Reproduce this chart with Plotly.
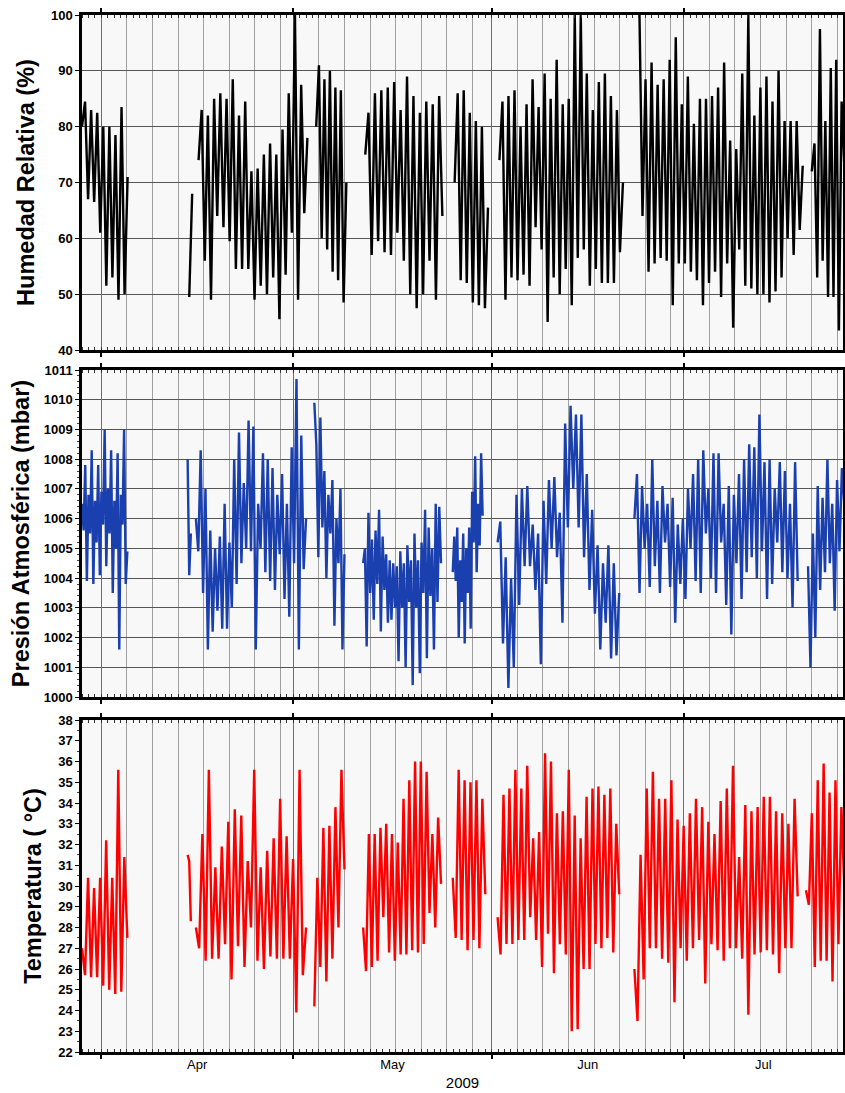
import pandas as pd
import plotly.graph_objects as go

# ---------------- axis window ----------------
x_start = "2009-03-29 00:00"
x_end = "2009-07-25 21:00"
month_starts = ["2009-04-01", "2009-05-01", "2009-06-01", "2009-07-01"]
month_names = ["Apr", "May", "Jun", "Jul"]

# ---------------- Humedad relativa (%) ----------------
rh_seg_start = ["2009-03-29 00:00", "2009-04-14 18:00", "2009-04-16 05:00", "2009-05-04 14:00",
                "2009-05-12 06:00", "2009-05-26 05:00", "2009-06-02 05:00", "2009-06-24 02:00",
                "2009-07-21 00:00"]
rh_seg_end = ["2009-04-05 03:00", "2009-04-15 05:00", "2009-05-03 05:00", "2009-05-09 07:00",
              "2009-05-24 07:00", "2009-05-31 10:00", "2009-06-21 12:00", "2009-07-19 14:00",
              "2009-07-26 02:00"]
rh_s1 = [80, 84.5, 67, 83, 66.5, 82.5, 61, 80, 51.5, 80, 53, 78.5, 49, 83.5, 50, 71]
rh_s2 = [49.5, 68]
rh_s3 = [74, 83, 56, 82, 49, 85, 64, 86, 62, 85, 59.5, 88.5, 54.5, 82, 54.5, 84.5, 54.5, 72, 49,
         72.5, 51.5, 75, 50, 77, 53, 75, 45.5, 79.5, 53.5, 86, 61, 100, 49, 87.5, 64.5, 78]
rh_s4 = [80, 91, 60, 88.5, 58, 90, 54, 87, 52.5, 86.5, 48.5, 70]
rh_s5 = [75, 82.5, 57, 86, 59.5, 86.5, 57.5, 87, 57, 88, 61, 83, 56, 89, 50, 85.5, 47.5, 82.5, 50,
         84.5, 56, 84, 49, 85.5, 64]
rh_s6 = [70, 86, 52.5, 86.5, 52, 82.5, 48.5, 81, 48, 80, 47.5, 65.5]
rh_s7 = [74, 84.5, 49, 85.5, 53, 86.5, 52.5, 80, 53.5, 84, 51.5, 88.5, 62, 83.5, 58, 89.5, 45, 85,
         53, 92, 50, 84, 54.5, 85, 48, 100, 56.5, 100, 58, 89.5, 51.5, 83, 54.5, 88, 52, 89.5, 52,
         85.5, 52, 83, 57.5, 70]
rh_s8 = [100, 64, 88.5, 54, 91.5, 55.5, 87.5, 56.5, 88.5, 56, 92, 48, 96, 55.5, 84, 55.5, 89, 54,
         80.5, 52.5, 85, 48, 85, 52, 85.5, 54, 87, 49.5, 91.5, 55.5, 77.5, 44, 76, 58, 89.5, 51.5,
         100, 51, 82, 50, 87, 50, 89, 48.5, 84.5, 50.5, 90, 53, 81, 60, 81, 57, 81, 61.5, 73]
rh_s9 = [72, 77, 53, 97.5, 56, 81, 49.5, 90.5, 49.5, 92, 43.5, 84.5, 73]
rh_blocks = [rh_s1, rh_s2, rh_s3, rh_s4, rh_s5, rh_s6, rh_s7, rh_s8, rh_s9]

# ---------------- Presion atmosferica (mbar) ----------------
p_seg_start = ["2009-03-29 00:00", "2009-04-14 12:00", "2009-04-15 19:00", "2009-05-04 07:00",
               "2009-05-11 22:00", "2009-05-25 22:00", "2009-06-01 22:00", "2009-06-23 07:00",
               "2009-07-20 10:00"]
p_seg_end = ["2009-04-05 02:00", "2009-04-15 00:00", "2009-05-03 00:00", "2009-05-09 00:00",
             "2009-05-24 02:00", "2009-05-30 14:00", "2009-06-20 22:00", "2009-07-18 19:00",
             "2009-07-26 02:00"]
p_s1 = [1006.5, 1005.6, 1007.8, 1003.9, 1006.8, 1005.5, 1008.3, 1003.8, 1006.6, 1005.2, 1007.8,
        1004.1, 1006.9, 1005.8, 1009.0, 1004.4, 1007.0, 1005.5, 1008.3, 1003.5, 1006.6, 1005.0,
        1008.2, 1001.6, 1006.8, 1005.8, 1009.0, 1003.8, 1004.9]
p_s2 = [1008.0, 1004.1, 1005.5]
p_s3 = [1006.0, 1004.9, 1008.3, 1003.5, 1007.0, 1001.6, 1005.6, 1002.2, 1005.0, 1002.9, 1005.4,
        1002.3, 1006.5, 1002.3, 1005.2, 1003.0, 1008.0, 1003.8, 1008.9, 1004.5, 1007.2, 1005.0,
        1009.3, 1004.9, 1009.1, 1001.6, 1006.5, 1005.0, 1008.2, 1004.2, 1008.0, 1003.9, 1007.7,
        1003.6, 1006.8, 1004.8, 1007.5, 1003.3, 1006.5, 1002.7, 1008.4, 1004.5, 1010.7, 1001.6,
        1008.8, 1004.3, 1006.0]
p_s4 = [1009.9, 1008.5, 1004.7, 1009.4, 1005.7, 1007.6, 1004.0, 1006.8, 1005.5, 1007.3, 1002.4,
        1006.0, 1004.5, 1007.0, 1001.6, 1004.8]
p_s5 = [1004.5, 1005.0, 1001.7, 1006.2, 1003.5, 1005.3, 1002.6, 1005.6, 1003.8, 1006.3, 1002.2,
        1005.4, 1003.6, 1004.8, 1002.5, 1004.6, 1002.6, 1004.5, 1003.0, 1004.4, 1001.2, 1004.9,
        1003.0, 1004.5, 1001.0, 1005.1, 1003.2, 1004.6, 1000.4, 1005.5, 1003.0, 1004.6, 1000.8,
        1005.2, 1003.5, 1006.3, 1001.3, 1005.7, 1003.4, 1005.0, 1001.6, 1006.5, 1003.2, 1006.4,
        1004.5]
p_s6 = [1004.2, 1005.4, 1003.9, 1005.7, 1002.0, 1004.6, 1003.2, 1005.5, 1001.8, 1005.0, 1003.5,
        1005.7, 1002.3, 1006.9, 1005.2, 1008.1, 1004.2, 1006.5, 1005.1, 1008.2, 1006.1]
p_s7 = [1005.2, 1005.9, 1001.8, 1004.7, 1000.3, 1004.0, 1001.0, 1006.8, 1003.1, 1007.0, 1004.4,
        1007.1, 1004.4, 1005.8, 1003.6, 1005.5, 1001.1, 1006.6, 1003.8, 1007.3, 1005.0, 1007.4,
        1004.7, 1006.2, 1002.5, 1009.2, 1005.7, 1009.8, 1007.0, 1009.5, 1005.7, 1009.5, 1004.7,
        1007.5, 1003.6, 1006.3, 1002.8, 1005.1, 1001.6, 1004.5, 1002.5, 1005.1, 1001.3, 1004.5,
        1001.4, 1003.5]
p_s8 = [1006.0, 1007.5, 1003.5, 1007.1, 1005.0, 1006.5, 1003.7, 1008.0, 1004.4, 1006.6, 1003.5,
        1007.1, 1005.2, 1006.5, 1003.7, 1006.7, 1002.5, 1005.8, 1003.8, 1006.0, 1003.3, 1007.0,
        1005.0, 1007.5, 1003.9, 1008.0, 1003.5, 1008.3, 1005.5, 1007.0, 1004.0, 1008.2, 1003.5,
        1008.2, 1005.2, 1006.5, 1003.1, 1007.1, 1002.1, 1006.8, 1004.5, 1007.5, 1003.3, 1008.0,
        1004.2, 1008.5, 1004.7, 1008.4, 1004.0, 1009.5, 1004.9, 1007.9, 1003.3, 1008.0, 1003.8,
        1007.0, 1005.2, 1007.9, 1004.2, 1007.6, 1004.0, 1006.5, 1003.0, 1007.9, 1003.9]
p_s9 = [1004.4, 1001.0, 1005.5, 1002.0, 1007.1, 1003.6, 1006.7, 1004.2, 1008.0, 1004.5, 1006.5,
        1002.9, 1007.3, 1004.9, 1007.7, 1006.5]
p_blocks = [p_s1, p_s2, p_s3, p_s4, p_s5, p_s6, p_s7, p_s8, p_s9]

# ---------------- Temperatura (C) ----------------
t_seg_start = ["2009-03-29 00:00", "2009-04-14 12:00", "2009-04-15 19:00", "2009-05-04 07:00",
               "2009-05-11 22:00", "2009-05-25 22:00", "2009-06-01 22:00", "2009-06-23 07:00",
               "2009-07-20 02:00"]
t_seg_end = ["2009-04-05 02:00", "2009-04-15 00:00", "2009-05-03 00:00", "2009-05-09 00:00",
             "2009-05-24 02:00", "2009-05-31 00:00", "2009-06-20 22:00", "2009-07-18 19:00",
             "2009-07-26 02:00"]
t_s1 = [27.0, 25.7, 30.4, 25.6, 29.9, 25.6, 30.4, 25.2, 32.2, 25.0, 30.4, 24.8, 35.6, 24.9, 31.4, 27.5]
t_s2 = [31.5, 31.2, 28.3]
t_s3 = [28.0, 27.0, 32.5, 26.4, 35.6, 26.5, 30.9, 26.5, 31.9, 27.2, 33.1, 25.5, 33.7, 27.1, 33.4,
        26.1, 31.2, 28.0, 35.6, 26.4, 30.9, 26.0, 31.7, 26.6, 32.3, 26.5, 34.2, 26.5, 32.4, 26.5,
        31.3, 23.9, 35.6, 25.7, 28.0]
t_s4 = [24.2, 30.4, 26.1, 32.8, 25.4, 32.9, 26.5, 33.8, 28.0, 35.6, 30.8]
t_s5 = [28.0, 25.9, 32.5, 26.1, 32.5, 26.4, 32.8, 28.5, 33.0, 26.8, 32.5, 26.4, 32.1, 26.7, 34.2,
        26.7, 35.1, 26.9, 36.0, 26.8, 36.0, 27.2, 35.5, 28.7, 32.5, 28.0, 33.3, 30.1]
t_s6 = [30.4, 27.5, 35.6, 27.4, 35.1, 26.9, 35.0, 27.4, 35.1, 27.0, 34.2, 29.6]
t_s7 = [28.5, 26.7, 34.4, 27.2, 34.7, 27.2, 35.6, 27.4, 34.7, 27.4, 35.8, 28.5, 32.3, 27.4, 32.6,
        26.1, 36.4, 27.7, 36.0, 25.8, 33.5, 27.2, 33.6, 26.7, 35.6, 23.0, 33.4, 23.1, 32.3, 26.0,
        34.3, 26.0, 34.7, 27.2, 34.8, 27.0, 34.4, 27.5, 34.7, 26.8, 33.0, 29.6]
t_s8 = [26.0, 23.5, 31.5, 25.5, 34.7, 27.0, 35.5, 27.0, 34.2, 26.5, 34.2, 26.3, 35.1, 24.4, 33.2,
        27.0, 32.9, 26.4, 33.5, 27.0, 34.2, 27.4, 33.8, 25.3, 33.1, 27.2, 32.5, 26.9, 34.1, 26.4,
        34.7, 27.0, 35.8, 27.0, 31.4, 26.5, 33.9, 23.8, 33.6, 26.7, 33.8, 26.8, 34.3, 26.9, 34.3,
        26.7, 33.6, 25.8, 33.5, 27.0, 33.0, 27.0, 34.2, 29.5]
t_s9 = [29.8, 29.1, 33.5, 26.1, 35.1, 26.4, 35.9, 26.4, 34.5, 25.4, 35.1, 27.2, 33.8, 30.0]
t_blocks = [t_s1, t_s2, t_s3, t_s4, t_s5, t_s6, t_s7, t_s8, t_s9]

# ---------------- helpers ----------------
def build(starts, ends, blocks):
    xs, ys = [], []
    for s, e, vals in zip(starts, ends, blocks):
        t = pd.date_range(s, e, periods=len(vals))
        xs.extend(t.strftime("%Y-%m-%d %H:%M:%S").tolist())
        ys.extend(vals)
        xs.append(None)
        ys.append(None)
    return xs, ys

# grid every 4 days, restarting on the 1st of each month
grid_dates = []
for m in pd.date_range("2009-03-01", "2009-07-01", freq="MS"):
    for d in range(1, 32, 4):
        if d <= m.days_in_month:
            g = m + pd.Timedelta(days=d - 1)
            if pd.Timestamp(x_start) <= g <= pd.Timestamp(x_end):
                grid_dates.append(g.strftime("%Y-%m-%d"))

# month label positions: middle of the visible part of each month
label_pos = []
for ms in month_starts:
    a = max(pd.Timestamp(ms), pd.Timestamp(x_start))
    b = min(pd.Timestamp(ms) + pd.offsets.MonthBegin(1), pd.Timestamp(x_end))
    label_pos.append((a + (b - a) / 2).strftime("%Y-%m-%d %H:%M:%S"))

FONT = "Liberation Sans, Arial, Helvetica, sans-serif"
fig = go.Figure()

for (xs, ys), color, xa, ya in [
    (build(rh_seg_start, rh_seg_end, rh_blocks), "#000000", "x", "y"),
    (build(p_seg_start, p_seg_end, p_blocks), "#1a3fae", "x2", "y2"),
    (build(t_seg_start, t_seg_end, t_blocks), "#ff0000", "x3", "y3"),
]:
    fig.add_trace(go.Scatter(x=xs, y=ys, mode="lines", line=dict(color=color, width=2.4),
                             xaxis=xa, yaxis=ya, showlegend=False, connectgaps=False,
                             hoverinfo="skip"))

# empty carriers so that the overlay axes get drawn
for xa, ya in [("x4", "y"), ("x5", "y2"), ("x6", "y3"), ("x7", "y3")]:
    fig.add_trace(go.Scatter(x=[x_start, x_end], y=[None, None], mode="lines",
                             xaxis=xa, yaxis=ya, showlegend=False, hoverinfo="skip"))

H = 1093.0
doms = [[1 - 350 / H, 1 - 15 / H], [1 - 697 / H, 1 - 370 / H], [1 - 1052 / H, 1 - 720 / H]]
xdom = [82 / 845.0, 843 / 845.0]

frame = dict(showline=True, linecolor="black", linewidth=2.5, mirror=True)
layout = dict(
    width=845, height=1093, autosize=False,
    margin=dict(l=0, r=0, t=0, b=0, autoexpand=False),
    paper_bgcolor="white", plot_bgcolor="#f8f8f8",
    font=dict(family=FONT, color="black"),
)

# main x axes: 4-day grid + frame
for xn, yn in [("xaxis", "y"), ("xaxis2", "y2"), ("xaxis3", "y3")]:
    layout[xn] = dict(domain=xdom, anchor=yn, range=[x_start, x_end], type="date",
                      tickmode="array", tickvals=grid_dates, showticklabels=False, ticks="",
                      showgrid=True, gridcolor="#a0a0a0", gridwidth=1, zeroline=False,
                      automargin=False, **frame)

# overlay x axes: month lines, month ticks and daily minor ticks
for xn, base, yn in [("xaxis4", "x", "y"), ("xaxis5", "x2", "y2"), ("xaxis6", "x3", "y3")]:
    layout[xn] = dict(overlaying=base, anchor=yn, range=[x_start, x_end], type="date",
                      tickmode="array", tickvals=month_starts, showticklabels=False,
                      ticks="outside", ticklen=6, tickwidth=1.5, tickcolor="black",
                      showgrid=True, gridcolor="#6e6e6e", gridwidth=1.2, zeroline=False,
                      showline=False, mirror="allticks", automargin=False,
                      minor=dict(dtick=86400000, tick0="2009-03-29", ticks="inside",
                                 ticklen=3, tickwidth=1, tickcolor="#333", showgrid=False))

# month labels and year title on the bottom panel
layout["xaxis7"] = dict(overlaying="x3", anchor="y3", range=[x_start, x_end], type="date",
                        tickmode="array", tickvals=label_pos, ticktext=month_names,
                        ticks="", showgrid=False, zeroline=False, showline=False,
                        automargin=False, ticklabelstandoff=3,
                        tickfont=dict(size=13, family=FONT, color="black"),
                        title=dict(text="2009", font=dict(size=15, family=FONT, color="black"),
                                   standoff=6))

yt = dict(ticks="outside", ticklen=4, tickwidth=1, tickcolor="black", zeroline=False,
          automargin=False,
          tickfont=dict(size=13, family=FONT, color="black", weight="bold"))
ttl = dict(size=23.5, family=FONT, color="black", weight="bold")

layout["yaxis"] = dict(domain=doms[0], anchor="x", range=[40, 100], dtick=10, tick0=40,
                       showgrid=True, gridcolor="#555555", gridwidth=1,
                       title=dict(text="Humedad Relativa (%)", font=ttl, standoff=10),
                       **yt, **frame)
layout["yaxis2"] = dict(domain=doms[1], anchor="x2", range=[1000, 1011], dtick=1, tick0=1000,
                        showgrid=True, gridcolor="#555555", gridwidth=1,
                        title=dict(text="Presión Atmosférica (mbar)", font=ttl, standoff=8),
                        minor=dict(dtick=0.2, ticks="outside", ticklen=2, tickcolor="#444",
                                   showgrid=False),
                        **yt, **frame)
layout["yaxis3"] = dict(domain=doms[2], anchor="x3", range=[22, 38], dtick=1, tick0=22,
                        showgrid=False,
                        title=dict(text="Temperatura ( °C)", font=ttl, standoff=10),
                        minor=dict(dtick=0.5, ticks="outside", ticklen=2, tickcolor="#444",
                                   showgrid=False),
                        **yt, **frame)
layout["yaxis4"] = dict(overlaying="y3", anchor="x3", range=[22, 38], tickmode="array",
                        tickvals=list(range(24, 38, 2)), showticklabels=False, ticks="",
                        showgrid=True, gridcolor="#555555", gridwidth=1, zeroline=False,
                        showline=False, automargin=False)

fig.update_layout(**layout)
fig.write_html("out.html", config={"displayModeBar": False},
               post_script="document.body.style.margin='0';document.body.style.overflow='hidden';")
